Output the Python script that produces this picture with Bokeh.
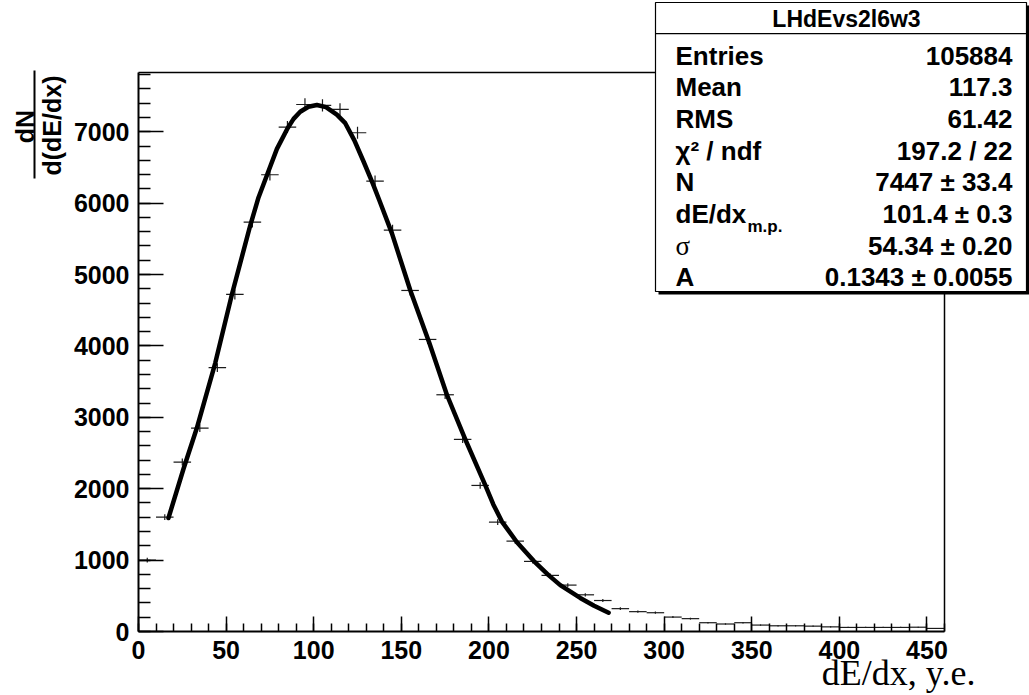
import math
from bokeh.plotting import figure
from bokeh.models import Range1d, FixedTicker, Label, BoxAnnotation
from bokeh.models import ColumnDataSource
from bokeh.embed import file_html
from bokeh.resources import INLINE

# ---------------- data ----------------
bin_centers = [5, 15, 25, 35, 45, 55, 65, 75, 85, 95, 105, 115, 125, 135, 145, 155, 165, 175, 185, 195,
               205, 215, 225, 235, 245, 255, 265, 275, 285, 295, 305, 315, 325, 335, 345, 355, 365, 375,
               385, 395, 405, 415, 425, 435, 445, 455]
bin_width = 10
counts = [1000, 1602, 2373, 2849, 3695, 4721, 5734, 6398, 7065, 7382, 7369, 7313, 6986, 6308, 5622, 4777,
          4091, 3316, 2691, 2046, 1532, 1266, 982, 786, 650, 514, 434, 320, 278, 263, 202, 180, 123, 105,
          123, 90, 80, 80, 75, 65, 57, 57, 57, 57, 60, 43]
errors = [32, 40, 49, 53, 61, 69, 76, 80, 84, 86, 86, 86, 84, 79, 75, 69, 64, 58, 52, 45, 39, 36, 31, 28,
          25, 23, 21, 18, 17, 16, 14, 13, 11, 10, 11, 9, 9, 9, 9, 8, 8, 8, 8, 8, 8, 7]

fit_x = [17.1, 25.7, 33.3, 43.8, 53.3, 63.8, 68.5, 73.3, 79.0, 85.1, 88.5, 92.3, 97.0, 101.8, 107.0,
         113.2, 118.0, 123.2, 128.5, 133.8, 137.6, 144.6, 155.1, 166.0, 176.0, 186.5, 197.9, 202.5,
         207.4, 216.0, 225.5, 234.0, 240.7, 252.1, 260.0, 268.3]
fit_y = [1590, 2280, 2850, 3760, 4720, 5690, 6080, 6390, 6760, 7050, 7180, 7280, 7350, 7375, 7345,
         7240, 7120, 6880, 6580, 6270, 6030, 5580, 4780, 4040, 3316, 2690, 2050, 1780, 1540, 1250, 990,
         790, 650, 470, 360, 263]

x_major = [0, 50, 100, 150, 200, 250, 300, 350, 400, 450]
x_minor = list(range(0, 461, 10))
y_major = [0, 1000, 2000, 3000, 4000, 5000, 6000, 7000]
y_minor = list(range(0, 7801, 200))
x_max, y_max = 460, 7830

stats_title = "LHdEvs2l6w3"
stat_names = ["Entries", "Mean", "RMS", "χ² / ndf", "N", "dE/dx", "σ", "A"]
stat_values = ["105884", "117.3", "61.42", "197.2 / 22", "7447 ± 33.4", "101.4 ± 0.3",
               "54.34 ± 0.20", "0.1343 ± 0.0055"]
x_title = "dE/dx, y.e."
y_title_num = "dN"
y_title_den = "d(dE/dx)"

# ---------------- layout (canvas px) ----------------
W, H = 1029, 695
FL, FT, FR, FB = 138, 72, 944, 631           # where the histogram frame sits on the canvas
xs = (FR - FL) / x_max                       # px per x unit
ys = (FB - FT) / y_max                       # px per y unit
x_range = Range1d(-FL / xs, (W - FL) / xs)
y_range = Range1d(-(H - FB) / ys, y_max + FT / ys)

p = figure(width=W, height=H, x_range=x_range, y_range=y_range,
           output_backend="svg", toolbar_location=None, min_border=0)
p.title.visible = False
p.xgrid.visible = False
p.ygrid.visible = False
p.outline_line_color = None
p.background_fill_color = "white"
p.border_fill_color = "white"

FONT = "Liberation Sans"
for ax in (p.xaxis[0], p.yaxis[0]):
    ax.fixed_location = 0
    ax.axis_line_color = "black"
    ax.axis_line_width = 2
    ax.major_tick_line_color = "black"
    ax.minor_tick_line_color = "black"
    ax.major_tick_line_width = 1.5
    ax.minor_tick_line_width = 1.5
    ax.major_tick_out = 0
    ax.minor_tick_out = 0
    ax.major_label_text_font = FONT
    ax.major_label_text_font_style = "bold"
    ax.major_label_text_font_size = "25px"
    ax.major_label_text_color = "black"

p.xaxis[0].bounds = (0, x_max)
p.xaxis[0].ticker = FixedTicker(ticks=x_major, minor_ticks=x_minor)
p.xaxis[0].major_tick_in = 15
p.xaxis[0].minor_tick_in = 8
p.xaxis[0].major_label_standoff = 9
p.yaxis[0].bounds = (0, y_max)
p.yaxis[0].ticker = FixedTicker(ticks=y_major, minor_ticks=y_minor)
p.yaxis[0].major_tick_in = 25
p.yaxis[0].minor_tick_in = 12
p.yaxis[0].major_label_standoff = 9

# frame top / right edges
p.segment(x0=[0, x_max], y0=[y_max, 0], x1=[x_max, x_max], y1=[y_max, y_max],
          line_color="black", line_width=1.5)

# ---------------- data markers ----------------
src = ColumnDataSource(dict(
    xc=bin_centers,
    x0=[c - bin_width / 2 for c in bin_centers],
    x1=[c + bin_width / 2 for c in bin_centers],
    y=counts,
    ylo=[c - e for c, e in zip(counts, errors)],
    yhi=[c + e for c, e in zip(counts, errors)],
))
p.segment(x0="x0", y0="y", x1="x1", y1="y", source=src, line_color="#1a1a1a", line_width=1.2)
p.segment(x0="xc", y0="ylo", x1="xc", y1="yhi", source=src, line_color="#1a1a1a", line_width=1.2)

# ---------------- fit curve ----------------
p.line(fit_x, fit_y, line_color="black", line_width=4.5, line_join="round", line_cap="round")

# ---------------- helpers in canvas coordinates (frame == whole canvas) ----------------
def sx(cx):
    return cx

def sy(cy):
    return H - cy

def label(text, cx, cy, size, align="left", baseline="middle", style="bold", font=FONT, angle=0):
    p.add_layout(Label(x=sx(cx), y=sy(cy), x_units="screen", y_units="screen", text=text,
                       text_font=font, text_font_size=size, text_font_style=style,
                       text_align=align, text_baseline=baseline, text_color="black", angle=angle))

def cbox(l, t, r, b, fill, line=None, lw=1):
    p.add_layout(BoxAnnotation(left=sx(l), right=sx(r), top=sy(t), bottom=sy(b),
                               left_units="screen", right_units="screen",
                               top_units="screen", bottom_units="screen",
                               fill_color=fill, fill_alpha=1.0,
                               line_color=line if line else "black", line_width=lw,
                               line_alpha=1.0 if line else 0.0))

# ---------------- stats box ----------------
BL, BT, BR, BB = 655, 2, 1026, 291
cbox(BL + 3, BT + 3, BR + 3, BB + 3, "black")
cbox(BL, BT, BR, BB, "white", "black", 1.2)
cbox(BL, 32.5, BR, 33.7, "black")
label(stats_title, 846, 18, "23px", align="center")

row_y = [55, 86.7, 118.4, 150.1, 181.8, 213.5, 245.2, 276.9]
for name, val, cy in zip(stat_names, stat_values, row_y):
    if name == "σ":
        label(name, 675, cy, "27px", style="normal", font="Liberation Serif")
    else:
        label(name, 675, cy, "26px")
    label(val, 1012, cy, "26px", align="right")
label("m.p.", 747, 226, "17px")

# ---------------- axis titles ----------------
label(y_title_num, 24, 126, "25px", align="center", angle=math.pi / 2)
label(y_title_den, 51, 125, "25px", align="center", angle=math.pi / 2)
cbox(33, 70, 35, 178, "black")
label(x_title, 975, 672, "36px", align="right", baseline="middle", style="normal",
      font="Liberation Serif")

open("out.html", "w").write(file_html(p, INLINE))
